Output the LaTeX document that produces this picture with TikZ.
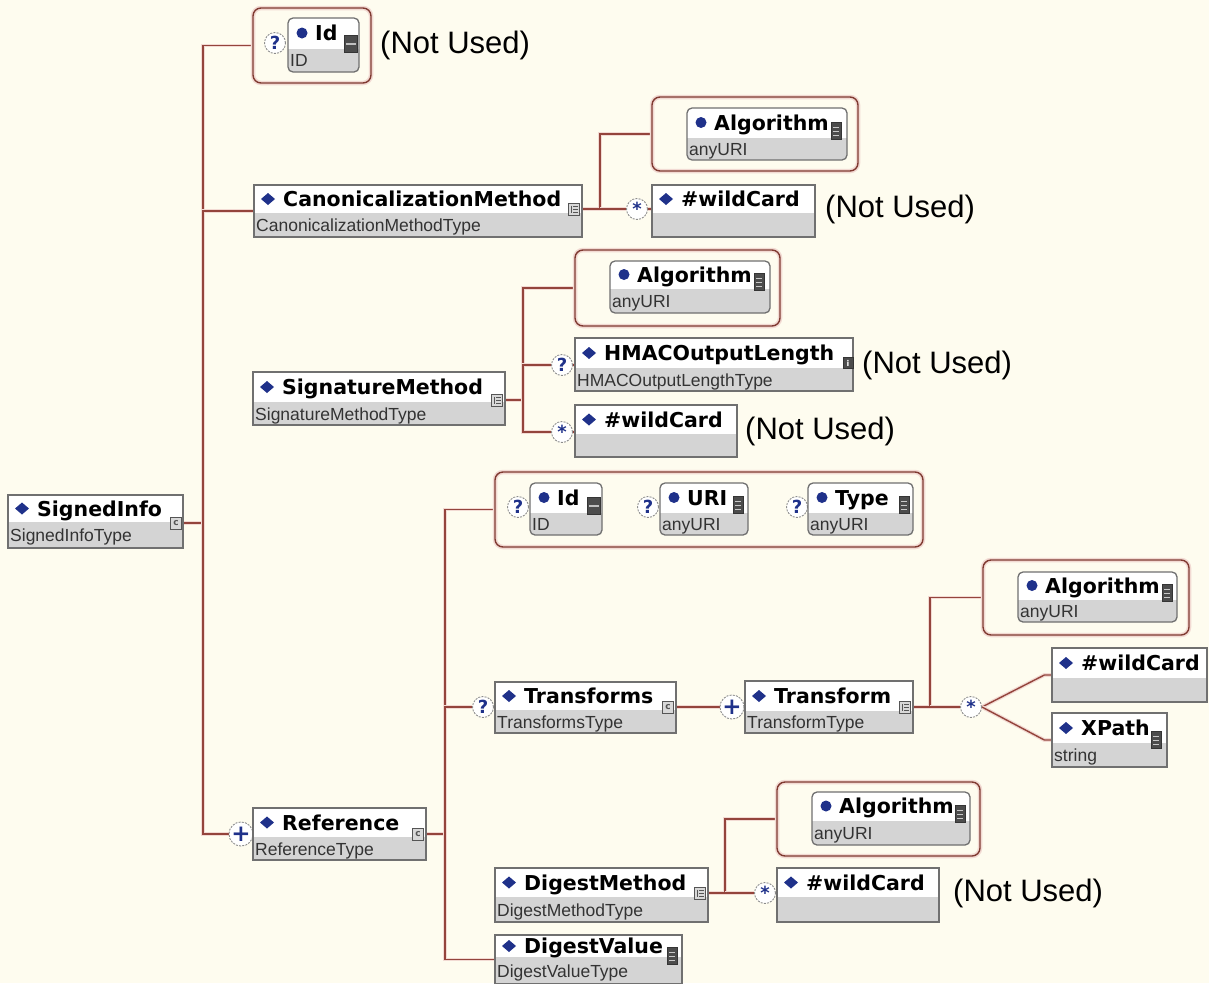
\documentclass[tikz,border=0pt]{standalone}
\usepackage{fontspec}
\setmainfont{Liberation Sans}
\newfontfamily\headfont{DejaVu Sans}
\usetikzlibrary{fit,calc}

\definecolor{bgcream}{HTML}{FEFCEF}
\definecolor{wireclr}{HTML}{94443C}
\definecolor{haloclr}{HTML}{F2DAD3}
\definecolor{grpclr}{HTML}{803A31}
\definecolor{frameclr}{HTML}{707070}
\definecolor{typefill}{HTML}{D4D4D4}
\definecolor{typeclr}{HTML}{333333}
\definecolor{navy}{HTML}{1F318A}
\definecolor{badgeclr}{HTML}{8C8C8C}
\definecolor{iconfill}{HTML}{D8D8D8}
\definecolor{iconedge}{HTML}{555555}
\definecolor{darkicon}{HTML}{4C4C4C}

\pgfdeclarelayer{canvas}
\pgfdeclarelayer{wires}
\pgfsetlayers{canvas,wires,main}

\tikzset{
  wire/.style={draw=wireclr, line width=1.4pt, preaction={draw=haloclr, line width=3.8pt}},
  boxframe/.style={draw=frameclr, line width=1.3pt, inner sep=0pt},
  attrframe/.style={boxframe, rounded corners=5pt},
  group/.style={draw=grpclr, line width=1.4pt, rounded corners=8pt, inner sep=0pt,
    preaction={draw=haloclr, line width=4.5pt}},
  ttl/.style={font=\headfont\bfseries\fontsize{20.5}{22}\selectfont, inner sep=0pt, text=black},
  typ/.style={font=\fontsize{17.5}{19}\selectfont, inner sep=0pt, text=typeclr},
  note/.style={font=\fontsize{31}{33}\selectfont, inner sep=0pt, anchor=west},
  badge/.style={circle, minimum size=21pt, inner sep=0pt, draw=badgeclr, line width=0.9pt,
    dash pattern=on 2pt off 1.2pt, fill=white, text=navy,
    font=\headfont\bfseries\fontsize{18}{18}\selectfont},
  starbadge/.style={badge, font=\headfont\bfseries\fontsize{18}{18}\selectfont},
  plusbadge/.style={badge, font=\headfont\bfseries\fontsize{23}{23}\selectfont},
  cicon/.style={rectangle, minimum width=11pt, minimum height=12pt, inner sep=0pt,
    draw=iconedge, fill=iconfill, line width=0.8pt},
  sicon/.style={rectangle, minimum width=10pt, minimum height=17pt, inner sep=0pt,
    draw=darkicon!70!black, fill=darkicon, line width=0.6pt},
}

% element box: name, x1, y1, x2, y-separator, y2, title, type
\newcommand\elembox[8]{%
  \fill[white] (#2,#3) rectangle (#4,#5);
  \fill[typefill] (#2,#5) rectangle (#4,#6);
  \node[boxframe, fit={(#2,#3)(#4,#6)}] (#1) {};
  \fill[navy] (#2+14,{(#3+#5)/2}) +(0,-6) -- +(7,0) -- +(0,6) -- +(-7,0) -- cycle;
  \node[ttl, anchor=base west] (#1-t) at (#2+29,{(#3+#5)/2+7.5}) {#7};
  \node[typ, anchor=base west] (#1-y) at (#2+2,{(#5+#6)/2+6.5}) {#8};
}
% attribute box with rounded corners
\newcommand\attrbox[8]{%
  \fill[typefill, rounded corners=5pt] (#2,#3) rectangle (#4,#6);
  \begin{scope}
    \clip (#2,#3) rectangle (#4,#5);
    \fill[white, rounded corners=5pt] (#2,#3) rectangle (#4,#6);
  \end{scope}
  \node[attrframe, fit={(#2,#3)(#4,#6)}] (#1) {};
  \fill[navy] (#2+14,{(#3+#5)/2}) circle (5.5pt);
  \node[ttl, anchor=base west] (#1-t) at (#2+27,{(#3+#5)/2+7.5}) {#7};
  \node[typ, anchor=base west] (#1-y) at (#2+2,{(#5+#6)/2+6.5}) {#8};
}
% complex type icon
\newcommand\cicn[3]{%
  \node[cicon, text=iconedge, font=\headfont\bfseries\fontsize{9}{9}\selectfont] (#1) at (#2,#3) {c};}
% sequence icon
\newcommand\seqicn[3]{%
  \node[cicon] (#1) at (#2,#3) {};
  \draw[iconedge, line width=0.8pt] ($(#1.center)+(-3,-3.5)$) -- ++(0,7);
  \foreach \d in {-3,0,3} \draw[iconedge, line width=0.8pt] ($(#1.center)+(-1,\d)$) -- ++(4.5,0);}
% simple type icon
\newcommand\simpleicn[3]{%
  \node[sicon] (#1) at (#2,#3) {};
  \foreach \d in {-4,0,4} \draw[white!70!darkicon, line width=0.9pt] ($(#1.center)+(-3,\d)$) -- ++(6,0);}
% ID type icon
\newcommand\idicn[3]{%
  \node[sicon, minimum width=13pt] (#1) at (#2,#3) {};
  \draw[white!65!darkicon, line width=1.8pt] ($(#1.center)+(-5,0)$) -- ++(10,0);}
% info icon
\newcommand\infoicn[3]{%
  \node[sicon, minimum width=10pt, minimum height=11pt, text=white,
    font=\headfont\bfseries\fontsize{8}{8}\selectfont] (#1) at (#2,#3) {i};}

\begin{document}
\begin{tikzpicture}[x=1pt,y=-1pt]
\begin{pgfonlayer}{canvas}
  \fill[bgcream] (0,0) rectangle (1209,983);
\end{pgfonlayer}
\useasboundingbox (0,0) rectangle (1209,983);

% root
\elembox{si}{8}{495}{183}{522}{548}{SignedInfo}{SignedInfoType}
\cicn{si-ic}{176}{523}

% Id attribute
\node[group, fit={(253,8)(371,83)}] (g1) {};
\node[badge] (q1) at (275,43) {?};
\attrbox{id1}{288}{18}{359}{48}{72}{Id}{ID}
\idicn{id1-ic}{351}{44}
\node[note] (nu1) at (380,45) {(Not Used)};

% CanonicalizationMethod
\elembox{cm}{254}{185}{582}{213}{237}{CanonicalizationMethod}{CanonicalizationMethodType}
\seqicn{cm-ic}{574}{209}
\node[group, fit={(652,97)(858,171)}] (g2) {};
\attrbox{al1}{687}{108}{847}{137}{160}{Algorithm}{anyURI}
\simpleicn{al1-ic}{836}{131}
\node[starbadge] (s1) at (637,209) {*};
\elembox{wc1}{652}{185}{815}{213}{237}{\#wildCard}{}
\node[note] (nu2) at (825,209) {(Not Used)};

% SignatureMethod
\elembox{sm}{253}{372}{505}{402}{425}{SignatureMethod}{SignatureMethodType}
\seqicn{sm-ic}{497}{400}
\node[group, fit={(575,250)(780,326)}] (g3) {};
\attrbox{al2}{610}{261}{770}{288}{313}{Algorithm}{anyURI}
\simpleicn{al2-ic}{759}{282}
\node[badge] (q2) at (562,365) {?};
\elembox{hm}{575}{338}{853}{368}{391}{HMACOutputLength}{HMACOutputLengthType}
\infoicn{hm-ic}{848}{363}
\node[note] (nu3) at (862,365) {(Not Used)};
\node[starbadge] (s2) at (562,432) {*};
\elembox{wc2}{575}{405}{737}{434}{457}{\#wildCard}{}
\node[note] (nu4) at (745,431) {(Not Used)};

% Reference
\node[plusbadge] (p1) at (241,834) {+};
\elembox{ref}{253}{808}{426}{837}{860}{Reference}{ReferenceType}
\cicn{ref-ic}{418}{834}

\node[group, fit={(495,472)(923,547)}] (g4) {};
\node[badge] (q4) at (518,507) {?};
\attrbox{id2}{530}{483}{602}{512}{535}{Id}{ID}
\idicn{id2-ic}{594}{506}
\node[badge] (q5) at (648,507) {?};
\attrbox{uri}{660}{483}{748}{512}{535}{URI}{anyURI}
\simpleicn{uri-ic}{738}{505}
\node[badge] (q6) at (797,507) {?};
\attrbox{tya}{808}{483}{913}{512}{535}{Type}{anyURI}
\simpleicn{tya-ic}{904}{505}

% Transforms
\node[badge] (q3) at (483,707) {?};
\elembox{tf}{495}{682}{676}{710}{733}{Transforms}{TransformsType}
\cicn{tf-ic}{668}{707}
\node[plusbadge] (p2) at (732,707) {+};
\elembox{tr}{745}{681}{913}{711}{733}{Transform}{TransformType}
\seqicn{tr-ic}{905}{707}
\node[group, fit={(983,560)(1189,635)}] (g5) {};
\attrbox{al3}{1018}{572}{1177}{599}{622}{Algorithm}{anyURI}
\simpleicn{al3-ic}{1167}{593}
\node[starbadge] (s3) at (971,707) {*};
\elembox{wc3}{1052}{648}{1207}{678}{702}{\#wildCard}{}
\elembox{xp}{1052}{713}{1167}{743}{767}{XPath}{string}
\simpleicn{xp-ic}{1156}{740}

% DigestMethod
\elembox{dm}{495}{868}{708}{897}{922}{DigestMethod}{DigestMethodType}
\seqicn{dm-ic}{700}{893}
\node[group, fit={(777,782)(980,856)}] (g6) {};
\attrbox{al4}{812}{792}{970}{820}{845}{Algorithm}{anyURI}
\simpleicn{al4-ic}{960}{814}
\node[starbadge] (s4) at (765,893) {*};
\elembox{wc4}{777}{868}{939}{897}{922}{\#wildCard}{}
\node[note] (nu5) at (953,893) {(Not Used)};

% DigestValue
\elembox{dv}{495}{935}{682}{957}{984}{DigestValue}{DigestValueType}
\simpleicn{dv-ic}{672}{956}

% connectors
\begin{pgfonlayer}{wires}
  \coordinate (jA) at (203,523);
  \draw[wire] (si-ic.east) -- (jA) |- (g1.west);
  \draw[wire] (jA) |- (cm.west);
  \draw[wire] (jA) |- (p1.west);

  \coordinate (jC) at (600,209);
  \draw[wire] (cm-ic.east) -- (jC) |- (g2.west);
  \draw[wire] (jC) -- (s1.west);
  \draw[wire] (s1.east) -- (s1.east -| wc1.west);

  \coordinate (jS) at (523,400);
  \draw[wire] (sm-ic.east) -- (jS) |- (g3.west);
  \draw[wire] (jS) |- (q2.west);
  \draw[wire] (jS) |- (s2.west);
  \draw[wire] (q2.east) -- (q2.east -| hm.west);
  \draw[wire] (s2.east) -- (s2.east -| wc2.west);

  \coordinate (jR) at (445,834);
  \draw[wire] (ref-ic.east) -- (jR) |- (g4.west);
  \draw[wire] (jR) |- (q3.west);
  \draw[wire] (jR) |- (dv.west);
  \draw[wire] (q3.east) -- (q3.east -| tf.west);
  \draw[wire] (tf-ic.east) -- (p2.west);
  \draw[wire] (p2.east) -- (p2.east -| tr.west);

  \coordinate (jT) at (930,707);
  \draw[wire] (tr-ic.east) -- (jT) |- (g5.west);
  \draw[wire] (jT) -- (s3.west);
  \draw[wire] (s3.east) -- ($(wc3.west)+(-7,0)$) -- (wc3.west);
  \draw[wire] (s3.east) -- ($(xp.west)+(-7,0)$) -- (xp.west);

  \coordinate (jD) at (725,893);
  \draw[wire] (dm-ic.east) -- (jD) |- (g6.west);
  \draw[wire] (jD) -- (s4.west);
  \draw[wire] (s4.east) -- (s4.east -| wc4.west);
\end{pgfonlayer}
\end{tikzpicture}
\end{document}
